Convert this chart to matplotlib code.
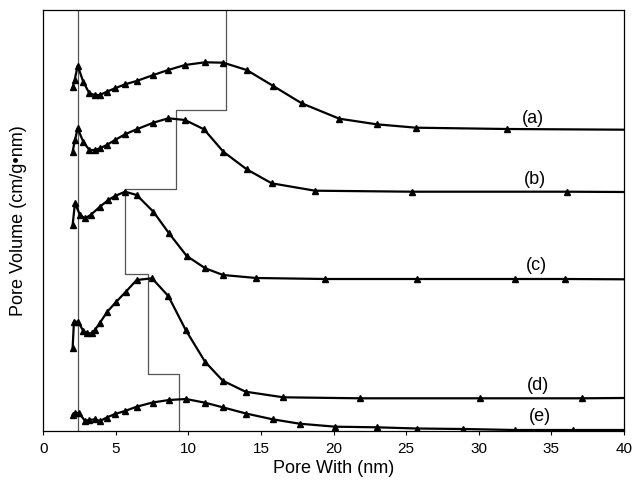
import matplotlib
matplotlib.use("Agg")
import matplotlib.pyplot as plt

plt.rcParams['font.family'] = ['Liberation Sans', 'DejaVu Sans']

# ---- data (pore width in nm, pore volume in arbitrary stacked units) ----
x_a = [2.02, 2.16, 2.37, 2.75, 3.17, 3.56, 3.90, 4.37, 4.94, 5.63, 6.43, 7.58, 8.61,
       9.76, 11.14, 12.40, 14.01, 15.84, 17.80, 20.39, 22.96, 25.67, 31.91, 40.0]
y_a = [343.7, 351, 365.3, 349.3, 337.7, 336, 336, 339.3, 342.7, 346.7, 350, 356, 361,
       366, 368.7, 368.3, 361, 345, 327.7, 312.3, 306.7, 303.3, 302, 301.3]

x_b = [2.02, 2.18, 2.37, 2.75, 3.17, 3.56, 3.90, 4.37, 4.94, 5.63, 6.43, 7.58, 8.61,
       9.76, 11.07, 12.40, 14.01, 15.73, 18.71, 25.37, 36.05, 40.0]
y_b = [279.3, 291, 302.7, 289.3, 281, 281, 282.7, 286, 291, 296.7, 301.7, 308.3, 312.7,
       311, 301.7, 279.3, 261.7, 247.7, 240.3, 239.3, 239.3, 239]

x_c = [2.02, 2.18, 2.53, 2.87, 3.26, 3.90, 4.48, 4.94, 5.63, 6.43, 7.58, 8.66, 9.88,
       11.16, 12.38, 14.67, 19.40, 25.76, 32.49, 35.93, 40.0]
y_c = [206, 227.7, 216, 212.7, 216, 224.3, 231, 235, 239.3, 236, 219.3, 197.7, 175,
       162.7, 156, 153, 152, 152, 152, 152, 151.7]

x_d = [2.02, 2.11, 2.41, 2.75, 3.03, 3.33, 3.56, 3.90, 4.41, 5.01, 5.67, 6.43, 7.49,
       8.61, 9.81, 11.14, 12.36, 13.93, 16.53, 21.81, 30.07, 37.08, 40.0]
y_d = [82.7, 109.3, 109.3, 100, 97.7, 97.7, 101, 108.3, 119.3, 129, 139, 151, 152.7,
       135, 101, 69.3, 50.3, 39.3, 33.7, 32.7, 32.7, 32.7, 33]

x_e = [2.02, 2.18, 2.48, 2.87, 3.17, 3.56, 3.90, 4.37, 4.94, 5.63, 6.43, 7.53, 8.66,
       9.83, 11.14, 12.36, 13.96, 15.79, 17.66, 20.12, 22.96, 25.72, 28.93, 32.49, 36.50, 40.0]
y_e = [16, 18, 18, 10, 11, 11.7, 10, 13.5, 17, 20, 24.3, 28.5, 31, 32, 28.3, 23.7,
       17.5, 11.7, 7.3, 4.3, 3.7, 2.5, 2, 1, 1, 1]

series = [("(a)", x_a, y_a), ("(b)", x_b, y_b), ("(c)", x_c, y_c),
          ("(d)", x_d, y_d), ("(e)", x_e, y_e)]

label_x = [33.75, 33.86, 33.98, 34.10, 34.20]
label_y = [312.7, 251, 166, 46, 14.3]

# step boundary line and reference line
step_x = [12.6, 12.6, 9.14, 9.14, 5.65, 5.65, 7.19, 7.19, 9.37, 9.37]
step_y = [421, 321.3, 321.3, 241.7, 241.7, 157, 157, 57, 57, 0]
ref_x = [2.37, 2.37]
ref_y = [0, 421]

x_ticks = [0, 5, 10, 15, 20, 25, 30, 35, 40]

fig = plt.figure(figsize=(6.33, 4.90), dpi=100)
ax = fig.add_axes([0.0684, 0.1204, 0.9174, 0.8592])

ax.plot(ref_x, ref_y, color='#555555', lw=0.9, zorder=1)
ax.plot(step_x, step_y, color='#555555', lw=0.9, zorder=1)

for (lab, xs, ys), lx, ly in zip(series, label_x, label_y):
    n = len(xs)
    ax.plot(xs, ys, color='black', lw=1.6, marker='^', markersize=5,
            markevery=list(range(n - 1)), zorder=3)
    ax.text(lx, ly, lab, fontsize=13, ha='center', va='center', zorder=4,
            bbox=dict(facecolor='white', edgecolor='none', pad=0.3))

ax.set_xlim(0, 40)
ax.set_ylim(0, 421)
ax.set_xticks(x_ticks)
ax.set_xticklabels([str(t) for t in x_ticks], fontsize=11)
ax.set_yticks([])
ax.tick_params(axis='x', direction='out', length=3, width=0.8, pad=5)
for s in ax.spines.values():
    s.set_linewidth(0.9)

ax.set_xlabel("Pore With (nm)", fontsize=13, labelpad=3)
ax.set_ylabel("Pore Volume (cm/g•nm)", fontsize=13, labelpad=12)

fig.savefig("out.png", dpi=100)
